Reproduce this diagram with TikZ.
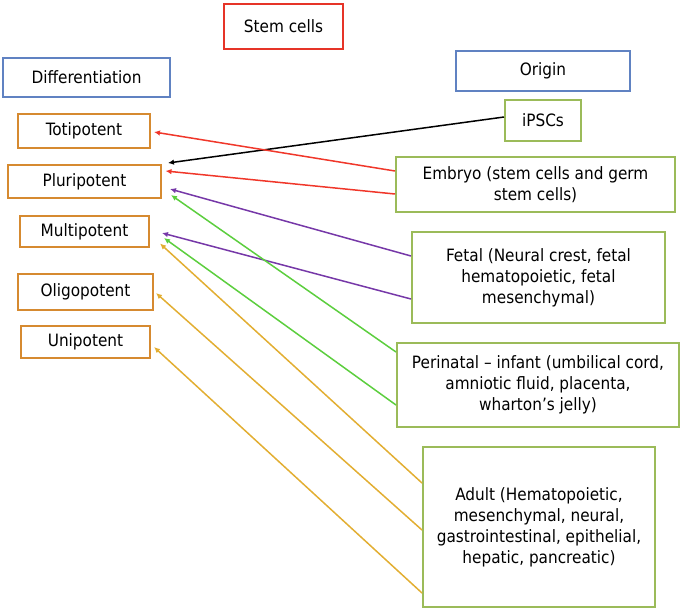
\documentclass[tikz,border=0pt]{standalone}
\usepackage{fontspec}
\setmainfont{DejaVu Sans Condensed}
\usetikzlibrary{arrows.meta,calc}
\definecolor{cred}{RGB}{230,52,40}
\definecolor{cblue}{RGB}{96,130,194}
\definecolor{corange}{RGB}{214,138,48}
\definecolor{cgreen}{RGB}{155,187,89}
\definecolor{ared}{RGB}{240,55,42}
\definecolor{apurple}{RGB}{118,56,168}
\definecolor{agreen}{RGB}{92,206,62}
\definecolor{ayellow}{RGB}{226,174,50}
\tikzset{
  box/.style={draw, line width=2pt, inner sep=0pt, align=center, font=\fontsize{17}{21}\selectfont},
  redbox/.style={box, draw=cred},
  bluebox/.style={box, draw=cblue},
  orbox/.style={box, draw=corange},
  grbox/.style={box, draw=cgreen},
  conn/.style={line width=1.5pt, -{Latex[length=6pt,width=5.5pt]}},
}
\begin{document}
\begin{tikzpicture}[x=1pt,y=-1pt]
\useasboundingbox (0,0) rectangle (683,613);
% left column
\node[redbox, minimum width=119pt, minimum height=45pt] (stem) at (283.5,26.5) {Stem cells};
\node[bluebox, minimum width=167pt, minimum height=39pt] (diff) at (86.5,77.5) {Differentiation};
\node[orbox, minimum width=132pt, minimum height=34pt] (toti) at (84,131) {Totipotent};
\node[orbox, minimum width=153pt, minimum height=33pt] (pluri) at (84.5,181.5) {Pluripotent};
\node[orbox, minimum width=129pt, minimum height=31pt] (multi) at (84.5,231.5) {Multipotent};
\node[orbox, minimum width=135pt, minimum height=36pt] (oligo) at (85.5,292) {Oligopotent};
\node[orbox, minimum width=129pt, minimum height=32pt] (uni) at (85.5,342) {Unipotent};
% right column
\node[bluebox, minimum width=174pt, minimum height=40pt] (origin) at (543,71) {Origin};
\node[grbox, minimum width=76pt, minimum height=41pt] (ipsc) at (543,120.5) {iPSCs};
\node[grbox, minimum width=279pt, minimum height=55pt] (embryo) at (535.5,184.5) {Embryo (stem cells and germ\\stem cells)};
\node[grbox, minimum width=253pt, minimum height=91pt] (fetal) at (538.5,277.5) {Fetal (Neural crest, fetal\\hematopoietic, fetal\\mesenchymal)};
\node[grbox, minimum width=282pt, minimum height=84pt] (peri) at (538,385) {Perinatal -- infant (umbilical cord,\\amniotic fluid, placenta,\\wharton’s jelly)};
\node[grbox, minimum width=232pt, minimum height=160pt] (adult) at (539,527) {Adult (Hematopoietic,\\mesenchymal, neural,\\gastrointestinal, epithelial,\\hepatic, pancreatic)};
% connectors
\draw[conn, black] ([yshift=3.5pt]ipsc.west) -- ([xshift=6pt,yshift=18.5pt]pluri.east);
\draw[conn, ared] ([yshift=13.5pt]embryo.west) -- ([xshift=3pt,yshift=-1pt]toti.east);
\draw[conn, ared] ([yshift=-9.5pt]embryo.west) -- ([xshift=3.5pt,yshift=10.5pt]pluri.east);
\draw[conn, apurple] ([yshift=21.5pt]fetal.west) -- ([xshift=8pt,yshift=-7.5pt]pluri.east);
\draw[conn, apurple] ([yshift=-21.5pt]fetal.west) -- ([xshift=12pt,yshift=-1.5pt]multi.east);
\draw[conn, agreen] ([yshift=33pt]peri.west) -- ([xshift=9pt,yshift=-13.5pt]pluri.east);
\draw[conn, agreen] ([yshift=-20pt]peri.west) -- ([xshift=14pt,yshift=-6.5pt]multi.east);
\draw[conn, ayellow] ([yshift=44pt]adult.west) -- ([xshift=10pt,yshift=-12pt]multi.east);
\draw[conn, ayellow] ([yshift=-3pt]adult.west) -- ([xshift=2pt,yshift=-1pt]oligo.east);
\draw[conn, ayellow] ([yshift=-66pt]adult.west) -- ([xshift=3pt,yshift=-5pt]uni.east);
\end{tikzpicture}
\end{document}
